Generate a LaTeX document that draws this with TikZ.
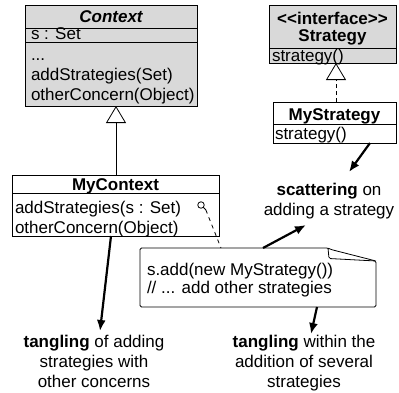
\documentclass[tikz,border=0pt]{standalone}
\usepackage{fontspec}
\setmainfont{Liberation Sans}
\usetikzlibrary{arrows.meta}
\newcommand{\fsz}{\fontsize{17}{20}\selectfont}
\begin{document}
\begin{tikzpicture}[x=1pt,y=-1pt,
  every node/.style={inner sep=0pt, outer sep=0pt, font=\fsz},
  box/.style={draw, line width=0.8pt, rectangle, anchor=north west},
  graybox/.style={box, fill=black!15},
  sepline/.style={line width=0.8pt},
  txt/.style={anchor=base west},
  ttl/.style={anchor=base, font=\fsz\bfseries},
  lbl/.style={anchor=base},
  bigarrow/.style={line width=2.2pt, -{Latex[length=11pt,width=9pt]}},
  gen/.style={line width=0.8pt, -{Triangle[open, length=17pt, width=20pt, fill=white]}},
  realize/.style={gen, dash pattern=on 4pt off 3pt},
  notedash/.style={line width=0.8pt, dash pattern=on 4pt off 4pt},
]
\useasboundingbox (0,0) rectangle (399,392);

% Context
\node[graybox, minimum width=172pt, minimum height=101pt] (context) at (25,5) {};
\draw[sepline] ([yshift=-23pt]context.north west) -- ([yshift=-23pt]context.north east);
\draw[sepline] ([yshift=-37pt]context.north west) -- ([yshift=-37pt]context.north east);
\node[anchor=base, font=\fsz\bfseries\itshape] (contextname) at (111,22) {Context};
\node[txt] (contextattr) at (31,39) {s : Set};
\node[txt] (contextops) at (31,60) {\begin{tabular}[t]{@{}l@{}}...\\addStrategies(Set)\\otherConcern(Object)\end{tabular}};

% Strategy
\node[graybox, minimum width=127pt, minimum height=58pt] (strategy) at (269,5) {};
\draw[sepline] ([yshift=-43pt]strategy.north west) -- ([yshift=-43pt]strategy.north east);
\node[anchor=base, font=\fsz\bfseries] (strategyname) at (332.5,24) {\begin{tabular}[t]{@{}c@{}}<\kern0pt<interface>\kern0pt>\\[-3pt]Strategy\end{tabular}};
\node[txt] (strategyops) at (272,61) {strategy()};

% MyStrategy
\node[box, fill=white, minimum width=123pt, minimum height=41pt] (mystrategy) at (273,102) {};
\draw[sepline] ([yshift=-22pt]mystrategy.north west) -- ([yshift=-22pt]mystrategy.north east);
\node[ttl] (mystrategyname) at (334.5,120) {MyStrategy};
\node[txt] (mystrategyops) at (275,139) {strategy()};

% MyContext
\node[box, fill=white, minimum width=207pt, minimum height=61pt] (mycontext) at (12,175) {};
\draw[sepline] ([yshift=-18pt]mycontext.north west) -- ([yshift=-18pt]mycontext.north east);
\node[ttl] (mycontextname) at (115.5,190) {MyContext};
\node[txt] (mycontextops) at (15,213) {\begin{tabular}[t]{@{}l@{}}addStrategies(s : Set)\\otherConcern(Object)\end{tabular}};

% generalizations
\draw[gen] ([xshift=0.5pt]mycontext.north) -- ([xshift=0.5pt]mycontext.north |- context.south);
\coordinate (realtop) at (336,63);
\draw[realize] (mystrategy.north -| realtop) -- (realtop);

% note
\node[anchor=north west, minimum width=236pt, minimum height=59pt] (note) at (140,248) {};
\draw[line width=0.8pt, rounded corners=1.5pt, fill=white]
  (note.north west) -- (328,248) -- (331,249.5) -- (376,261) -- (note.east |- note.south) -- (note.south west) -- cycle;
\draw[line width=0.8pt, rounded corners=1.5pt] (328,248) -- (329,258.5) -- (376,261);
\node[txt] (notetext) at (147,275) {\begin{tabular}[t]{@{}l@{}}s.add(new MyStrategy())\\[-1.5pt]// ... add other strategies\end{tabular}};

% note attachment
\node[draw, circle, line width=0.8pt, minimum size=6.5pt] (hook) at (201,205) {};
\coordinate (noteattach) at (221,248);
\draw[line width=0.8pt] (hook.south east) -- ++(2.5,2.5) coordinate (hooktail);
\draw[notedash] (hooktail) -- (noteattach);

% labels
\node[lbl] (scatter) at (329,195) {\begin{tabular}[t]{@{}c@{}}\textbf{scattering} on\\adding a strategy\end{tabular}};
\node[lbl] (tangleleft) at (94,347) {\begin{tabular}[t]{@{}c@{}}\textbf{tangling} of adding\\strategies with\\other concerns\end{tabular}};
\node[lbl] (tangleright) at (304,347) {\begin{tabular}[t]{@{}c@{}}\textbf{tangling} within the\\addition of several\\strategies\end{tabular}};

% arrows
\coordinate (a1end) at (100,331);
\coordinate (a2end) at (306,225);
\coordinate (a3end) at (349,172);
\coordinate (a4end) at (311,334);
\draw[bigarrow] ([xshift=-4.5pt]mycontext.south) -- (a1end);
\draw[bigarrow] ([xshift=123pt]note.north west) -- (a2end);
\draw[bigarrow] ([xshift=97pt]mystrategy.south west) -- (a3end);
\draw[bigarrow] ([xshift=177pt]note.south west) -- (a4end);
\end{tikzpicture}
\end{document}
